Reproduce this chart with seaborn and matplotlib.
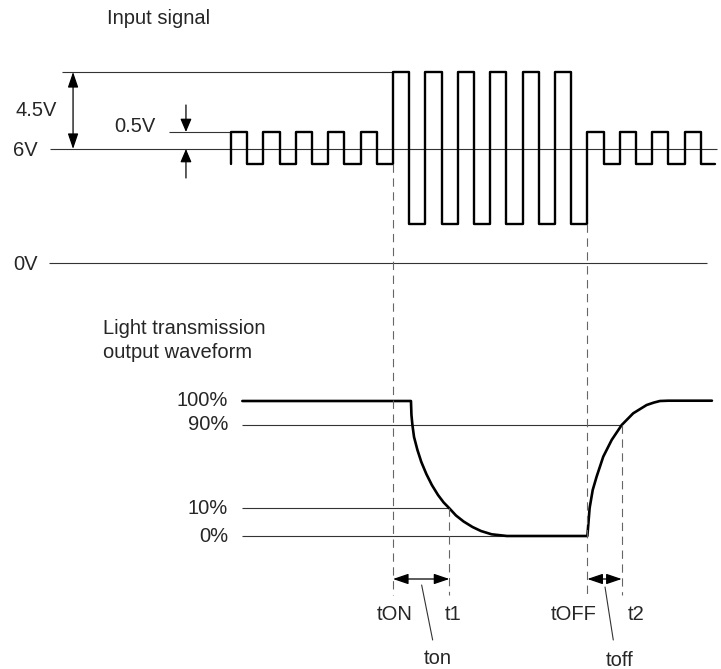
import matplotlib.pyplot as plt
import pandas as pd
import seaborn as sns

# --- DATA ---
# x: time in half-periods of the input square wave, t = 0 at tON
# y: vertical position in rows of the schematic (0 = top of drawing)

# input signal: switching instants and the level held after each of them
SIGNAL_T = [-10, -9, -8, -7, -6, -5, -4, -3, -2, -1,
            0, 1, 2, 3, 4, 5, 6, 7, 8, 9, 10, 11,
            12, 13, 14, 15, 16, 17, 18, 19, 19.9]
SIGNAL_ROW = [132, 164, 132, 164, 132, 164, 132, 164, 132, 164,
              72, 224, 72, 224, 72, 224, 72, 224, 72, 224, 72, 224,
              132, 164, 132, 164, 132, 164, 132, 164, 164]
SIGNAL_START_ROW = 164

# voltage reference lines
VOLT_LABELS = ['6V', '0V']
VOLT_ROW = [149, 263]
VOLT_SPAN = [(-21.17, 20.0), (-21.23, 19.38)]

# light transmission output
TRANS_T = [-9.3, 1.11, 1.14, 1.20, 1.30, 1.51, 1.75, 2.06, 2.40, 2.78, 3.13,
           3.48, 3.89, 4.36, 4.91, 5.43, 6.09, 7.04,
           12.0, 12.05, 12.14, 12.33, 12.57, 12.98, 13.50, 14.12, 14.83,
           15.66, 16.10, 16.48, 16.99, 19.69]
TRANS_ROW = [401, 401, 415, 425, 437, 450, 462, 474, 485, 495, 502.5,
             508.3, 515.5, 521.5, 527, 531, 534.3, 536,
             536, 526, 508, 490, 476.7, 456.7, 440, 425, 413.3,
             405, 402.6, 401, 400.7, 400.7]

PCT_LABELS = ['100%', '90%', '10%', '0%']
PCT_ROW = [401, 425, 508, 536]
PCT_END = [None, 14.12, 3.48, 7.04]

# timing markers
MARK_LABELS = ['tON', 't1', 'tOFF', 't2']
MARK_T = [0, 3.48, 12, 14.12]
MARK_TOP = [164, 508, 224, 425]
MARK_LABEL_T = [0.09, 3.7, 11.17, 15.0]

sns.set_theme(style='white')
plt.rcParams['font.family'] = ['Liberation Sans', 'DejaVu Sans']
FS = 14.5

fig = plt.figure(figsize=(7.21, 6.69), dpi=100)
ax = fig.add_axes([0, 0, 1, 1])
ax.set_xlim(-24.26, 20.25)
ax.set_ylim(669, 0)
ax.axis('off')

thin = dict(color='#333333', lw=0.8)
dash = dict(color='#666666', lw=0.8, linestyle=(0, (7.5, 5)))

# reference lines of the input part
for row, (a, b) in zip(VOLT_ROW, VOLT_SPAN):
    ax.hlines(row, a, b, **thin)
ax.hlines(72, -20.43, 0, **thin)
ax.hlines(132, -13.83, -10, **thin)

# input signal
sig = pd.DataFrame({'t': [SIGNAL_T[0]] + SIGNAL_T,
                    'row': [SIGNAL_START_ROW] + SIGNAL_ROW})
sns.lineplot(data=sig, x='t', y='row', ax=ax, sort=False, estimator=None,
             drawstyle='steps-post', color='black', lw=1.7)

# percent reference lines
for row, end in zip(PCT_ROW, PCT_END):
    if end is not None:
        ax.hlines(row, -9.3, end, **thin)

# transmission curve
trans = pd.DataFrame({'t': TRANS_T, 'row': TRANS_ROW})
sns.lineplot(data=trans, x='t', y='row', ax=ax, sort=False, estimator=None,
             color='black', lw=1.9)

# dashed timing markers
for t, top in zip(MARK_T, MARK_TOP):
    ax.vlines(t, top, 595, **dash)

# dimension arrows
arr = dict(arrowstyle='<|-|>,head_length=0.47,head_width=0.16', color='black',
           lw=0.9, shrinkA=0, shrinkB=0, mutation_scale=20)
one = dict(arr, arrowstyle='-|>,head_length=0.4,head_width=0.17')
ax.annotate('', xy=(-19.75, 72), xytext=(-19.75, 149), arrowprops=arr)
ax.annotate('', xy=(-12.78, 132), xytext=(-12.78, 105), arrowprops=one)
ax.annotate('', xy=(-12.78, 149), xytext=(-12.78, 178), arrowprops=one)
ax.annotate('', xy=(MARK_T[1], 579), xytext=(MARK_T[0], 579), arrowprops=arr)
ax.annotate('', xy=(MARK_T[3], 579), xytext=(MARK_T[2], 579), arrowprops=arr)

# leader lines to ton / toff
ax.plot([1.77, 2.45], [585, 640], color='#333333', lw=0.8)
ax.plot([13.09, 13.60], [587, 640], color='#333333', lw=0.8)

# texts
ax.text(-17.65, 18, 'Input signal', fontsize=FS, va='center')
ax.text(-23.33, 111, '4.5V', fontsize=FS, va='center')
ax.text(-17.22, 127, '0.5V', fontsize=FS, va='center')
for lab, row in zip(VOLT_LABELS, VOLT_ROW):
    ax.text(-23.46, row + 1, lab, fontsize=FS, va='center')
ax.text(-17.9, 329, 'Light transmission', fontsize=FS, va='center')
ax.text(-17.9, 352, 'output waveform', fontsize=FS, va='center')
for lab, row in zip(PCT_LABELS, PCT_ROW):
    ax.text(-10.19, row, lab, fontsize=FS, va='center', ha='right')
for lab, t in zip(MARK_LABELS, MARK_LABEL_T):
    ax.text(t, 615, lab, fontsize=FS, va='center', ha='center')
ax.text(2.78, 658, 'ton', fontsize=FS, va='center', ha='center')
ax.text(14.0, 660, 'toff', fontsize=FS, va='center', ha='center')

fig.savefig('out.png', dpi=100)
